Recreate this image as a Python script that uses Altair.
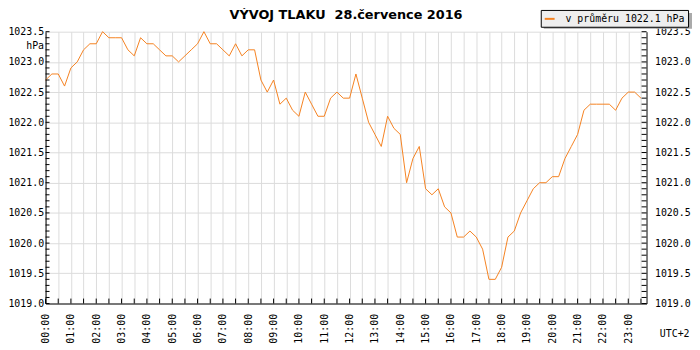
import altair as alt
import pandas as pd

# ---- data (15-minute readings, hPa) ----
p_00_06 = [1022.7, 1022.8, 1022.8, 1022.6, 1022.9, 1023.0, 1023.2, 1023.3,
           1023.3, 1023.5, 1023.4, 1023.4, 1023.4, 1023.2, 1023.1, 1023.4,
           1023.3, 1023.3, 1023.2, 1023.1, 1023.1, 1023.0, 1023.1, 1023.2]
p_06_12 = [1023.3, 1023.5, 1023.3, 1023.3, 1023.2, 1023.1, 1023.3, 1023.1,
           1023.2, 1023.2, 1022.7, 1022.5, 1022.7, 1022.3, 1022.4, 1022.2,
           1022.1, 1022.5, 1022.3, 1022.1, 1022.1, 1022.4, 1022.5, 1022.4]
p_12_18 = [1022.4, 1022.8, 1022.4, 1022.0, 1021.8, 1021.6, 1022.1, 1021.9,
           1021.8, 1021.0, 1021.4, 1021.6, 1020.9, 1020.8, 1020.9, 1020.6,
           1020.5, 1020.1, 1020.1, 1020.2, 1020.1, 1019.9, 1019.4, 1019.4]
p_18_24 = [1019.6, 1020.1, 1020.2, 1020.5, 1020.7, 1020.9, 1021.0, 1021.0,
           1021.1, 1021.1, 1021.4, 1021.6, 1021.8, 1022.2, 1022.3, 1022.3,
           1022.3, 1022.3, 1022.2, 1022.4, 1022.5, 1022.5, 1022.4]

pressure = p_00_06 + p_06_12 + p_12_18 + p_18_24
hours = [i * 0.25 for i in range(len(pressure))]          # 00:00, 00:15, ...
legend_label = "v průměru 1022.1 hPa"
title_text = "VÝVOJ TLAKU\u00a0 28.července 2016"

y_major = [1019.0, 1019.5, 1020.0, 1020.5, 1021.0, 1021.5,
           1022.0, 1022.5, 1023.0, 1023.5]
y_minor = [round(1019.0 + i * 0.1, 1) for i in range(46)]
x_half_hours = [i * 0.5 for i in range(48)]

# ---- layout / style ----
W, H = 608, 275
ORANGE = "#f58220"
MONO = "DejaVu Sans Mono"
GRID = "#dcdcdc"

df = pd.DataFrame({"t": hours, "p": pressure, "s": [legend_label] * len(pressure)})
ytick_df = pd.DataFrame({"v": y_minor})
xtick_df = pd.DataFrame({"h": x_half_hours})
one_df = pd.DataFrame({"k": [0]})

xs = alt.Scale(domain=[0, 23.72], nice=False, zero=False)
ys = alt.Scale(domain=[1019.0, 1023.5], nice=False, zero=False)

label_expr = ("datum.value % 1 == 0 ? (datum.value < 10 ? '0' : '') + "
              "datum.value + ':00' : ''")


def x_axis():
    return alt.Axis(values=x_half_hours, labelExpr=label_expr,
                    labelAngle=270, labelPadding=10, labelFlush=False,
                    labelOverlap=False, ticks=False, grid=True,
                    title="UTC+2", titleX=651, titleY=30,
                    titleAlign="right", titleBaseline="middle")


title = alt.Chart(one_df).mark_text(
    text=title_text, font="DejaVu Sans", fontSize=13, fontWeight="bold",
    color="black", align="center", baseline="middle",
).encode(x=alt.value(W / 2), y=alt.value(-17))

shadow = alt.Chart(one_df).mark_rect(color="#aaaaaa").encode(
    x=alt.value(504), x2=alt.value(654), y=alt.value(-19), y2=alt.value(-3)
)

line = alt.Chart(df).mark_line(strokeWidth=1).encode(
    x=alt.X("t:Q", scale=xs, axis=x_axis()),
    y=alt.Y("p:Q", scale=ys,
            axis=alt.Axis(values=y_major, format=".1f", ticks=False,
                          grid=True, labelPadding=2,
                          title="hPa", titleAngle=0, titleAlign="right",
                          titleBaseline="middle", titleX=-2, titleY=14)),
    color=alt.Color("s:N", scale=alt.Scale(range=[ORANGE]),
                    legend=alt.Legend(title=None, orient="none",
                                      legendX=501, legendY=-22,
                                      fillColor="#eeeeee", strokeColor="black",
                                      padding=3, cornerRadius=0,
                                      symbolType="stroke", symbolStrokeWidth=2,
                                      symbolSize=100, labelFont=MONO,
                                      labelFontSize=10, labelOffset=10,
                                      labelColor="black")),
)

left_ticks = alt.Chart(ytick_df).mark_rule(color="black", strokeWidth=1).encode(
    y=alt.Y("v:Q", scale=ys, axis=None),
    x=alt.value(0), x2=alt.value(4),
)

right_ticks = alt.Chart(ytick_df).mark_rule(color="black", strokeWidth=1).encode(
    y=alt.Y("v:Q", scale=ys,
            axis=alt.Axis(orient="right", values=y_major, format=".1f",
                          ticks=False, grid=False, labelPadding=8, title=None)),
    x=alt.value(W - 5), x2=alt.value(W),
)

bottom_ticks = alt.Chart(xtick_df).mark_rule(color="black", strokeWidth=1).encode(
    x=alt.X("h:Q", scale=xs, axis=x_axis()),
    y=alt.value(H - 5), y2=alt.value(H),
)

chart = alt.layer(shadow, line, left_ticks, right_ticks, bottom_ticks, title).resolve_scale(
    y="independent"
).properties(
    width=W, height=H,
    autosize=alt.AutoSizeParams(type="none"),
    padding={"left": 38, "top": 22, "right": 46, "bottom": 41},
    background="white",
).configure_view(
    strokeWidth=0
).configure_axis(
    labelFont=MONO, labelFontSize=10, labelColor="black",
    titleFont=MONO, titleFontSize=10, titleFontWeight="normal", titleColor="black",
    domainColor="black", domainWidth=1, gridColor=GRID, gridWidth=1,
)

chart.save("out.html", embed_options={"renderer": "svg", "actions": False})
